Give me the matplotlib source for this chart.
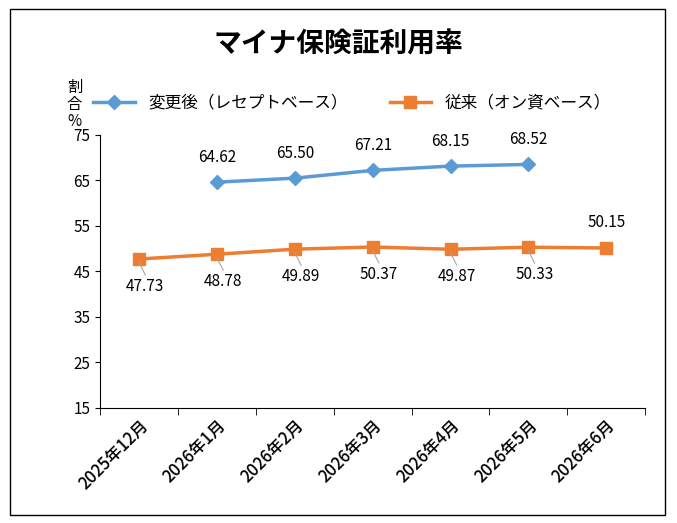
import matplotlib.pyplot as plt
from matplotlib.patches import Rectangle

plt.rcParams['font.family'] = ['Noto Sans CJK JP', 'DejaVu Sans']

months = ["2025年12月", "2026年1月", "2026年2月", "2026年3月", "2026年4月", "2026年5月", "2026年6月"]
new_x = [1, 2, 3, 4, 5]
new_rate = [64.62, 65.50, 67.21, 68.15, 68.52]
old_x = [0, 1, 2, 3, 4, 5, 6]
old_rate = [47.73, 48.78, 49.89, 50.37, 49.87, 50.33, 50.15]

fig = plt.figure(figsize=(6.77, 5.23), dpi=100)
fig.patches.append(Rectangle((0.015, 0.015), 0.968, 0.968, transform=fig.transFigure,
                             fill=False, edgecolor="black", linewidth=1))
ax = fig.add_axes([0.148, 0.22, 0.805, 0.522])

ax.plot(new_x, new_rate, color="#5B9BD5", marker="D", markersize=7, linewidth=2.5,
        label="変更後（レセプトベース）")
ax.plot(old_x, old_rate, color="#ED7D31", marker="s", markersize=8, linewidth=2.5,
        label="従来（オン資ベース）")

for x, v in zip(new_x, new_rate):
    ax.text(x, v + 5.5, f"{v:.2f}", ha="center", va="center", fontsize=11)
for x, v in zip(old_x, old_rate):
    if x == 6:
        ax.text(x, v + 5.5, f"{v:.2f}", ha="center", va="center", fontsize=11)
    else:
        ax.plot([x, x + 0.08], [v - 0.8, v - 3.5], color="#A6A6A6", linewidth=0.8)  # leader line
        ax.text(x + 0.08, v - 6, f"{v:.2f}", ha="center", va="center", fontsize=11)

ax.set_xlim(-0.5, 6.5)
ax.set_ylim(15, 75)
ax.set_yticks(range(15, 76, 10))
ax.set_xticks(old_x)
ax.set_xticklabels(months, rotation=45, ha="right", rotation_mode="anchor", fontsize=12,
                   fontweight="medium")
ax.set_xticks([i - 0.5 for i in range(8)], minor=True)
ax.tick_params(axis="x", which="major", length=0, pad=6)
ax.tick_params(axis="x", which="minor", length=5)
ax.tick_params(axis="y", labelsize=11)
for s in ["top", "right"]:
    ax.spines[s].set_visible(False)

fig.text(0.5, 0.915, "マイナ保険証利用率", ha="center", va="center", fontsize=20, fontweight="bold")
fig.text(0.11, 0.80, "割\n合\n%", ha="center", va="center", fontsize=11, linespacing=1.0)
ax.legend(loc="lower left", bbox_to_anchor=(-0.04, 1.03), ncol=2, frameon=False,
          fontsize=12, columnspacing=2.5, handlelength=2.5)

plt.savefig("out.png")
